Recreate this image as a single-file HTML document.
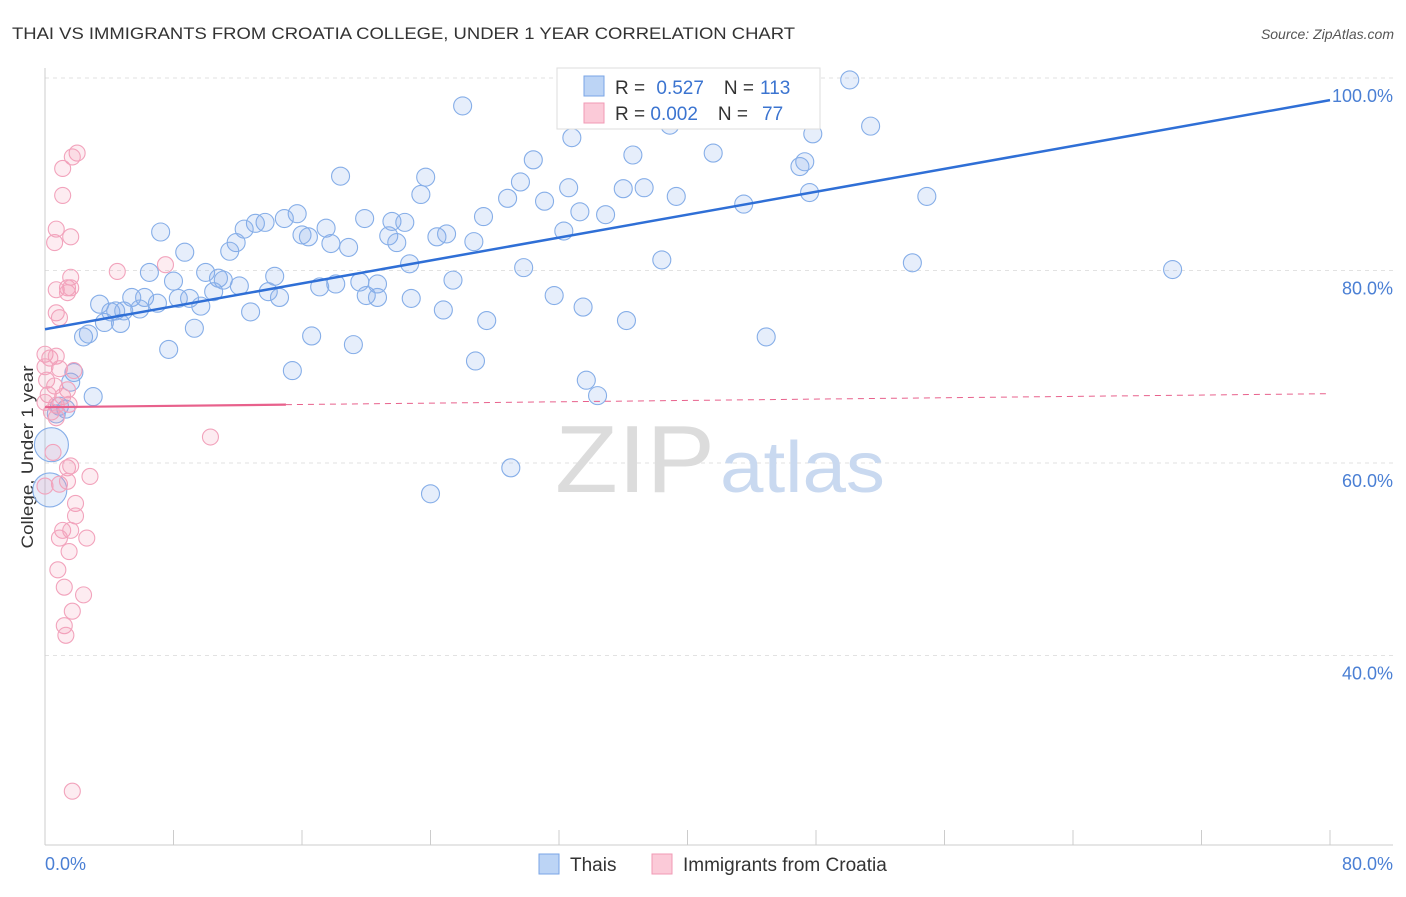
<!DOCTYPE html>
<html><head><meta charset="utf-8"><style>
body{margin:0;background:#fff;font-family:"Liberation Sans",sans-serif;}
svg text{font-family:"Liberation Sans",sans-serif;}
</style></head><body>
<svg id="chart" width="1406" height="892">
<text x="12" y="39" font-size="17" fill="#333" textLength="783" lengthAdjust="spacingAndGlyphs">THAI VS IMMIGRANTS FROM CROATIA COLLEGE, UNDER 1 YEAR CORRELATION CHART</text>
<text x="1394" y="39" font-size="14" fill="#555" font-style="italic" text-anchor="end">Source: ZipAtlas.com</text>
<text transform="translate(33,457) rotate(-90)" font-size="17" fill="#333" text-anchor="middle" textLength="183" lengthAdjust="spacingAndGlyphs">College, Under 1 year</text>
<g id="grid"></g>
<g id="ticks"></g>
<text x="555" y="492" font-size="96" fill="#dcdcdc" font-family="Liberation Serif" textLength="160" lengthAdjust="spacingAndGlyphs">ZIP</text>
<text x="720" y="492" font-size="72" fill="#c9d9f0" textLength="165" lengthAdjust="spacingAndGlyphs">atlas</text>
<g id="pts"></g>
<g id="trends"></g>
<g>
<rect x="557" y="68" width="263" height="61" fill="#fff" stroke="#ddd"/>
<rect x="584" y="76" width="20" height="20" fill="#bcd4f5" stroke="#7aa5e6"/>
<rect x="584" y="103" width="20" height="20" fill="#fbcad8" stroke="#f09ab5"/>
<text x="615" y="94" font-size="19" fill="#333">R = <tspan fill="#3b74d0" dx="6">0.527</tspan><tspan dx="20" fill="#333">N =</tspan><tspan dx="6" fill="#3b74d0">113</tspan></text>
<text x="615" y="120" font-size="19" fill="#333">R = <tspan fill="#3b74d0">0.002</tspan><tspan dx="20" fill="#333">N =</tspan><tspan dx="14" fill="#3b74d0">77</tspan></text>
</g>
<rect x="539" y="854" width="20" height="20" fill="#bcd4f5" stroke="#7aa5e6"/>
<text x="570" y="871" font-size="19" fill="#333">Thais</text>
<rect x="652" y="854" width="20" height="20" fill="#fbcad8" stroke="#f09ab5"/>
<text x="683" y="871" font-size="19" fill="#333">Immigrants from Croatia</text>
</svg>
<script>
const yTicks=[40,60,80,100];
const yTickLabels=["40.0%","60.0%","80.0%","100.0%"];
const blueX=[50.1,26.0,38.9,47.8,32.8,51.4,36.6,41.6,30.4,47.3,47.0,18.4,23.7,29.6,32.6,36.0,37.3,39.3,47.6,54.9,23.4,28.8,31.1,27.3,33.3,34.9,43.5,15.7,14.9,13.7,13.1,12.4,19.9,21.6,22.4,17.5,7.2,16.0,16.4,21.4,21.9,24.4,25.0,26.7,32.3,11.9,11.5,8.7,17.8,18.9,38.4,54.0,70.2,29.8,22.7,6.5,10.0,14.3,8.0,10.8,11.1,19.6,25.4,12.1,20.7,18.1,17.1,13.9,14.6,20.0,20.7,22.8,8.3,9.0,6.2,5.4,10.5,3.4,4.1,4.4,4.9,5.9,7.0,9.7,12.8,24.8,31.7,33.5,27.5,36.2,3.7,4.7,9.3,16.6,2.4,2.7,44.9,19.2,7.7,26.8,15.4,33.7,1.8,1.6,34.4,3.0,0.9,1.3,0.7,0.4,0.3,29.0,24.0];
const blueY=[99.8,97.1,95.1,94.2,93.8,95.0,92.0,92.2,91.5,91.3,90.8,89.8,89.7,89.2,88.6,88.5,88.6,87.7,88.1,87.7,87.9,87.5,87.2,85.6,86.1,85.8,86.9,85.9,85.4,85.0,84.9,84.3,85.4,85.1,85.0,84.4,84.0,83.7,83.5,83.6,82.9,83.5,83.8,83.0,84.1,82.9,82.0,81.9,82.8,82.4,81.1,80.8,80.1,80.3,80.7,79.8,79.8,79.4,78.9,79.2,79.0,78.8,79.0,78.4,78.6,78.6,78.3,77.8,77.2,77.4,77.2,77.1,77.1,77.1,77.2,77.2,77.8,76.5,75.7,75.8,75.8,76.0,76.6,76.3,75.7,75.9,77.4,76.2,74.8,74.8,74.6,74.5,74.0,73.2,73.1,73.4,73.1,72.3,71.8,70.6,69.6,68.6,69.4,68.4,67.0,66.9,65.9,65.6,65.1,61.9,57.2,59.5,56.8];
const pinkX=[2.0,1.7,1.1,1.1,0.7,1.6,0.6,4.5,7.5,1.6,1.4,0.7,1.6,1.4,0.7,0.9,0.0,0.3,0.7,0.0,0.9,1.8,0.1,0.6,1.4,0.2,1.1,0.0,0.7,1.5,0.4,0.7,10.3,0.5,1.4,1.6,2.8,0.0,0.9,1.4,1.9,1.9,1.1,1.6,2.6,0.9,1.5,0.8,1.2,2.4,1.7,1.2,1.3,1.7];
const pinkY=[92.2,91.8,90.6,87.8,84.3,83.5,82.9,79.9,80.6,79.3,78.2,78.0,78.2,77.7,75.6,75.1,71.3,70.9,71.1,70.0,69.8,69.6,68.6,68.0,67.6,67.1,66.9,66.3,66.0,66.1,65.3,64.7,62.7,61.1,59.5,59.7,58.6,57.6,57.8,58.1,55.8,54.5,53.0,53.0,52.2,52.2,50.8,48.9,47.1,46.3,44.6,43.1,42.1,25.9];
const blueTrend=[73.9,97.7];
const pinkTrend=[65.8,67.2];
const pinkSolidEnd=15;
const NS="http://www.w3.org/2000/svg";
function sx(v){return 45+v*1285/80;}
function sy(v){return 78+(100-v)*9.625;}
function mk(tag,attrs,parent){const e=document.createElementNS(NS,tag);for(const k in attrs)e.setAttribute(k,attrs[k]);parent.appendChild(e);return e;}
const grid=document.getElementById('grid'),ticks=document.getElementById('ticks'),pts=document.getElementById('pts'),tr=document.getElementById('trends');
yTicks.forEach((t,i)=>{
 const l=mk('line',{x1:45,x2:1393,y1:sy(t),y2:sy(t),stroke:'#e2e2e2','stroke-dasharray':'4,4'},grid);
 
 
 const tx=mk('text',{x:1393,y:sy(t)+24,'font-size':18,fill:'#4a7fd4','text-anchor':'end'},ticks);
 tx.textContent=yTickLabels[i];
 
 
});
const ax=mk('line',{x1:45,x2:45,y1:68,y2:845,stroke:'#ccc'},ticks);


const bx=mk('line',{x1:45,x2:1393,y1:845,y2:845,stroke:'#ccc'},ticks);


for(let i=0;i<=10;i++){
 const t=mk('line',{x1:sx(i*8),x2:sx(i*8),y1:830,y2:845,stroke:'#ccc'},ticks);
 
 
}
const x0=mk('text',{x:45,y:870,'font-size':18,fill:'#4a7fd4'},ticks);x0.textContent='0.0%';


const x1=mk('text',{x:1393,y:870,'font-size':18,fill:'#4a7fd4','text-anchor':'end'},ticks);x1.textContent='80.0%';


blueX.forEach((v,i)=>{
 const big=(i>=blueX.length-4&&i<=blueX.length-3);
 const c=mk('circle',{cx:sx(v),cy:sy(blueY[i]),r:big?17:9,fill:'rgba(130,170,235,0.2)',stroke:'#86aee8','stroke-width':1.1},pts);
 
 
});
pinkX.forEach((v,i)=>{
 const c=mk('circle',{cx:sx(v),cy:sy(pinkY[i]),r:8,fill:'rgba(245,150,180,0.18)',stroke:'#f2a3bc','stroke-width':1.1},pts);
 
 
});
const bl=mk('line',{x1:sx(0),y1:sy(blueTrend[0]),x2:sx(80),y2:sy(blueTrend[1]),stroke:'#2f6fd6','stroke-width':2.5},tr);


const pm=pinkTrend[0]+(pinkTrend[1]-pinkTrend[0])*pinkSolidEnd/80;
const pl=mk('line',{x1:sx(0),y1:sy(pinkTrend[0]),x2:sx(pinkSolidEnd),y2:sy(pm),stroke:'#e8618c','stroke-width':2.2},tr);


const pd=mk('line',{x1:sx(pinkSolidEnd),y1:sy(pm),x2:sx(80),y2:sy(pinkTrend[1]),stroke:'#e8618c','stroke-width':1,'stroke-dasharray':'6,5'},tr);


</script>
</body></html>
